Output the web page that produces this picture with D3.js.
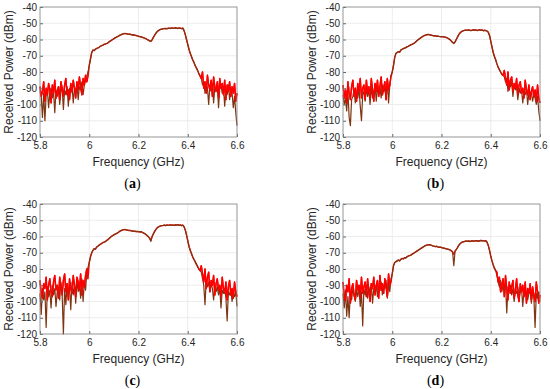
<!DOCTYPE html>
<html>
<head>
<meta charset="utf-8">
<script src="https://cdn.jsdelivr.net/npm/d3@7"></script>
<style>
  body { margin: 0; background: #fff; }
  svg { display: block; }
  .tick text { font-family: "Liberation Sans", Arial, sans-serif; font-size: 10px; fill: #262626; }
</style>
</head>
<body>
<svg id="canvas" width="550" height="389"></svg>
<script>
// sample grid, 5.8 .. 6.6 GHz in 5 MHz steps (161 points)
const freqStart = 5.8;
const freqStep = 0.005;
const xTicks = [5.8, 6, 6.2, 6.4, 6.6];
const yTicks = [-40, -50, -60, -70, -80, -90, -100, -110, -120];

// (a)
const redA = [-89,-95,-92,-86,-98,-90,-94,-87,-91,-99,-88,-93,-85,-96,-92,-89,-97,-86,-90,-95,
  -88,-84,-94,-91,-97,-87,-92,-85,-90,-96,-86,-91,-83,-89,-94,-84,-88,-82,-86,-83,
  -76,-72,-68,-66.5,-66.8,-66,-65.5,-65.2,-64.8,-64.2,-63.8,-63.5,-63,-62.8,-62.5,-62.2,-61.5,-61,-60.5,-60,
  -59.5,-59,-58.6,-58.2,-57.8,-57.3,-57,-56.7,-56.4,-56.3,-56.4,-56.6,-56.8,-56.7,-57,-57.2,-57.1,-57.4,-57.5,-57.8,
  -58,-58.2,-58.4,-58.6,-58.9,-59.2,-59.5,-60,-60.4,-60.8,-61.2,-60.2,-58.8,-57.5,-56.3,-55.3,-54.6,-54.1,-53.8,-53.6,
  -53.4,-53.3,-53.2,-53.4,-53.1,-53,-53.2,-52.9,-53.1,-53,-52.8,-53,-53.2,-52.9,-53.1,-53.3,-53,-54.5,-57,-60,
  -63,-66,-68.5,-70.5,-72.5,-74,-76,-77.5,-79,-81,-82.5,
  -84,-80,-90,-86,-93,-82,-88,-91,-85,-95,-83,-89,-92,-86,-96,-84,-90,-87,-94,-85,-97,-88,-92,-86,-95,-89,-93,-87,-98,-93];
const darkA = [-92,-95,-108,-93,-110,-94,-91,-102,-93,-90,-96,-92,-105,-91,-95,-89,-100,-92,-90,-103,
  -91,-94,-89,-101,-90,-93,-88,-99,-90,-92,-87,-97,-89,-91,-86,-94,-88,-85,-83,-80,
  -76,-72,-68,-66.5,-66.8,-66,-65.5,-65.2,-64.8,-64.2,-63.8,-63.5,-63,-62.8,-62.5,-62.2,-61.5,-61,-60.5,-60,
  -59.5,-59,-58.6,-58.2,-57.8,-57.3,-57,-56.7,-56.4,-56.3,-56.4,-56.6,-56.8,-56.7,-57,-57.2,-57.1,-57.4,-57.5,-57.8,
  -58,-58.2,-58.4,-58.6,-58.9,-59.2,-59.5,-60,-60.4,-60.8,-61.2,-60.2,-58.8,-57.5,-56.3,-55.3,-54.6,-54.1,-53.8,-53.6,
  -53.4,-53.3,-53.2,-53.4,-53.1,-53,-53.2,-52.9,-53.1,-53,-52.8,-53,-53.2,-52.9,-53.1,-53.3,-53,-54.5,-57,-60,
  -63,-66,-68.5,-70.5,-72.5,-74,-76,-77.5,-79,-81,-82.5,
  -84,-88,-86,-93,-87,-90,-100,-88,-92,-87,-99,-89,-91,-87,-102,-90,-88,-93,-89,-101,-91,-94,-88,-97,-91,-93,-102,-95,-105,-113];

// (b)
const redB = [-88,-96,-91,-99,-86,-93,-97,-89,-85,-95,-90,-98,-87,-92,-84,-96,-90,-88,-97,-85,
  -93,-89,-96,-84,-91,-98,-87,-92,-85,-95,-89,-83,-94,-90,-86,-97,-84,-91,-88,-83,
  -80,-76,-71,-68.5,-68,-67.5,-67.8,-66.5,-66,-65.6,-65.3,-65,-64.5,-64.2,-63.7,-63.3,-63,-62.6,-62.2,-61.5,
  -60.8,-60.2,-59.6,-59,-58.5,-58,-57.6,-57.3,-57.1,-56.9,-57,-57.2,-57.4,-57.6,-57.8,-57.7,-58,-57.9,-58.1,-58.2,
  -58.3,-58.2,-58.4,-58.5,-58.8,-59.2,-59.6,-60.2,-61,-61.8,-62.4,-61.5,-60,-58.5,-57,-56,-55.3,-54.8,-54.5,-54.3,
  -54.2,-54.4,-54.1,-54.3,-54.5,-54.2,-54,-54.3,-54.1,-54.5,-54.2,-54,-54.4,-54.1,-54.6,-54.3,-54.5,-54.8,-55.5,-57.5,
  -61,-64.5,-68,-70.5,-72.5,-75,-77,-78.5,-80,-81.5,-82,
  -79,-84,-88,-80,-91,-85,-83,-92,-87,-90,-84,-94,-88,-86,-93,-90,-96,-85,-91,-94,-88,-97,-92,-89,-95,-91,-98,-88,-96,-99];
const darkB = [-94,-100,-96,-104,-92,-108,-113,-97,-95,-91,-99,-93,-96,-90,-101,-110,-94,-92,-98,-90,
  -95,-91,-100,-89,-96,-92,-88,-98,-90,-94,-89,-96,-88,-92,-90,-97,-85,-99,-88,-82,
  -80,-76,-71,-68.5,-68,-67.5,-67.8,-66.5,-66,-65.6,-65.3,-65,-64.5,-64.2,-63.7,-63.3,-63,-62.6,-62.2,-61.5,
  -60.8,-60.2,-59.6,-59,-58.5,-58,-57.6,-57.3,-57.1,-56.9,-57,-57.2,-57.4,-57.6,-57.8,-57.7,-58,-57.9,-58.1,-58.2,
  -58.3,-58.2,-58.4,-58.5,-58.8,-59.2,-59.6,-60.2,-61,-61.8,-62.4,-61.5,-60,-58.5,-57,-56,-55.3,-54.8,-54.5,-54.3,
  -54.2,-54.4,-54.1,-54.3,-54.5,-54.2,-54,-54.3,-54.1,-54.5,-54.2,-54,-54.4,-54.1,-54.6,-54.3,-54.5,-54.8,-55.5,-57.5,
  -61,-64.5,-68,-70.5,-72.5,-75,-77,-78.5,-80,-81.5,-82,
  -83,-86,-84,-92,-87,-89,-86,-95,-88,-91,-89,-97,-90,-93,-91,-99,-92,-94,-90,-100,-93,-95,-92,-98,-94,-96,-100,-95,-104,-110];

// (c)
const redC = [-87,-95,-98,-89,-92,-85,-99,-90,-86,-94,-97,-88,-84,-93,-90,-98,-85,-91,-96,-87,
  -83,-94,-89,-99,-86,-92,-95,-84,-90,-97,-85,-88,-93,-83,-96,-87,-91,-84,-80,-86,
  -76,-72.5,-70,-68.5,-67.5,-67.8,-66.5,-66,-65.3,-64.8,-64.3,-63.8,-63.5,-63.2,-62.5,-62,-61.3,-60.6,-60,-59.4,
  -59,-58.6,-58.2,-57.8,-57.2,-56.7,-56.3,-56,-55.8,-55.7,-55.9,-56.1,-56.3,-56.2,-56.5,-56.6,-56.8,-56.7,-57,-56.9,
  -57,-57.2,-57,-57.4,-57.8,-58.2,-58.8,-59.4,-60.2,-61,-62.5,-60.2,-58.5,-57,-55.8,-54.8,-54.2,-53.8,-53.5,-53.3,
  -53.2,-53,-53.3,-52.9,-53.1,-53,-52.8,-53.1,-52.9,-53.2,-52.8,-53,-52.7,-53.1,-52.9,-53.3,-53,-54,-56,-59,
  -62.5,-66,-68.5,-70.5,-72.5,-74,-75.5,-77,-78.5,-80,-81,
  -78,-83,-88,-80,-92,-85,-82,-94,-87,-90,-84,-96,-89,-86,-93,-90,-97,-85,-92,-95,-88,-99,-91,-87,-96,-92,-98,-88,-94,-97];
const darkC = [-95,-108,-92,-99,-94,-116,-91,-97,-93,-104,-90,-96,-92,-103,-94,-91,-99,-88,-96,-120,
  -92,-102,-89,-95,-91,-105,-88,-96,-90,-101,-87,-94,-89,-98,-86,-100,-88,-93,-82,-79,
  -76,-72.5,-70,-68.5,-67.5,-67.8,-66.5,-66,-65.3,-64.8,-64.3,-63.8,-63.5,-63.2,-62.5,-62,-61.3,-60.6,-60,-59.4,
  -59,-58.6,-58.2,-57.8,-57.2,-56.7,-56.3,-56,-55.8,-55.7,-55.9,-56.1,-56.3,-56.2,-56.5,-56.6,-56.8,-56.7,-57,-56.9,
  -57,-57.2,-57,-57.4,-57.8,-58.2,-58.8,-59.4,-60.2,-61,-63,-60.2,-58.5,-57,-55.8,-54.8,-54.2,-53.8,-53.5,-53.3,
  -53.2,-53,-53.3,-52.9,-53.1,-53,-52.8,-53.1,-52.9,-53.2,-52.8,-53,-52.7,-53.1,-52.9,-53.3,-53,-54,-56,-59,
  -62.5,-66,-68.5,-70.5,-72.5,-74,-75.5,-77,-78.5,-80,-81,
  -82,-86,-90,-102,-87,-91,-88,-94,-89,-92,-99,-90,-94,-91,-96,-92,-104,-93,-95,-92,-98,-112,-94,-96,-93,-100,-95,-97,-94,-103];

// (d)
const redD = [-88,-97,-100,-90,-94,-86,-101,-92,-89,-96,-99,-87,-93,-90,-98,-85,-95,-91,-88,-97,
  -86,-94,-100,-89,-92,-85,-96,-90,-87,-98,-84,-93,-89,-95,-86,-91,-97,-83,-90,-88,
  -83,-78,-76,-75.5,-75,-74.5,-75,-74,-73.5,-73.8,-73,-73.2,-72.5,-72,-71.8,-71.5,-71,-70.5,-70,-69.5,
  -69,-68.5,-68,-67.5,-67,-66.5,-66,-65.6,-65.3,-65.1,-65,-65.2,-65.5,-65.8,-66,-66.2,-66,-66.4,-66.6,-66.5,
  -66.8,-67,-67.2,-67.4,-67.6,-67.8,-68,-68.3,-68.8,-69.5,-71,-69,-68,-66.8,-65.5,-64.5,-63.8,-63.4,-63.2,-63,
  -62.8,-63,-62.7,-63.1,-62.8,-62.6,-63,-62.7,-62.5,-62.9,-62.6,-62.8,-62.4,-62.7,-62.5,-62.8,-62.6,-63.5,-65.5,-68.5,
  -72,-75,-77.5,-79.5,-81,
  -82,-88,-85,-94,-90,-86,-97,-84,-92,-99,-88,-95,-91,-87,-98,-93,-86,-96,-100,-89,-94,-90,-97,-88,-101,-92,-95,-89,-99,-91,-96,-100,-88,-94,-101,-96];
const darkD = [-95,-104,-93,-109,-97,-110,-94,-99,-92,-96,-100,-93,-97,-91,-103,-94,-115,-92,-96,-90,
  -98,-91,-95,-89,-101,-92,-94,-90,-97,-91,-93,-88,-96,-90,-92,-87,-98,-89,-94,-86,
  -83,-78,-76,-75.5,-75,-74.5,-75,-74,-73.5,-73.8,-73,-73.2,-72.5,-72,-71.8,-71.5,-71,-70.5,-70,-69.5,
  -69,-68.5,-68,-67.5,-67,-66.5,-66,-65.6,-65.3,-65.1,-65,-65.2,-65.5,-65.8,-66,-66.2,-66,-66.4,-66.6,-66.5,
  -66.8,-67,-67.2,-67.4,-67.6,-67.8,-68,-68.3,-68.8,-69.5,-78,-69,-68,-66.8,-65.5,-64.5,-63.8,-63.4,-63.2,-63,
  -62.8,-63,-62.7,-63.1,-62.8,-62.6,-63,-62.7,-62.5,-62.9,-62.6,-62.8,-62.4,-62.7,-62.5,-62.8,-62.6,-63.5,-65.5,-68.5,
  -72,-75,-77.5,-79.5,-81,
  -84,-88,-91,-87,-94,-90,-92,-89,-107,-91,-94,-90,-96,-92,-100,-93,-95,-91,-98,-94,-92,-103,-93,-96,-94,-99,-95,-93,-101,-94,-97,-116,-95,-98,-94,-100];

// where the noise floor ends (left) and starts again (right), GHz
const noiseEdges = [[5.995, 6.45], [5.995, 6.445], [5.995, 6.445], [5.995, 6.42]];

const panels = [
  { label: "a", red: redA, dark: darkA, noise: noiseEdges[0], left: 40, top: 7 },
  { label: "b", red: redB, dark: darkB, noise: noiseEdges[1], left: 343, top: 7 },
  { label: "c", red: redC, dark: darkC, noise: noiseEdges[2], left: 40, top: 204 },
  { label: "d", red: redD, dark: darkD, noise: noiseEdges[3], left: 343, top: 204 }
];

const plotW = 197;
const plotH = 130;

const canvas = d3.select("#canvas");
canvas.append("rect").attr("width", 550).attr("height", 389).attr("fill", "#fff");
const defs = canvas.append("defs");

const drawPanel = (p, k) => {
  const x = d3.scaleLinear().domain([5.8, 6.6]).range([0, plotW]);
  const y = d3.scaleLinear().domain([-120, -40]).range([plotH, 0]);

  const g = canvas.append("g").attr("transform", `translate(${p.left}, ${p.top})`);

  // grid
  g.append("g")
    .selectAll("line")
    .data(xTicks)
    .enter()
    .append("line")
    .attr("x1", (d) => x(d))
    .attr("x2", (d) => x(d))
    .attr("y1", 0)
    .attr("y2", plotH)
    .attr("stroke", "#e8e8e8")
    .attr("stroke-width", 0.8);
  g.append("g")
    .selectAll("line")
    .data(yTicks)
    .enter()
    .append("line")
    .attr("x1", 0)
    .attr("x2", plotW)
    .attr("y1", (d) => y(d))
    .attr("y2", (d) => y(d))
    .attr("stroke", "#e8e8e8")
    .attr("stroke-width", 0.8);

  const line = d3
    .line()
    .x((d, i) => x(freqStart + i * freqStep))
    .y((d) => y(d));

  // red trace on top only in the noise floor regions
  const clipId = "noise" + k;
  const clip = defs.append("clipPath").attr("id", clipId);
  clip.append("rect").attr("x", -2).attr("y", -5)
    .attr("width", x(p.noise[0]) + 2).attr("height", plotH + 10);
  clip.append("rect").attr("x", x(p.noise[1])).attr("y", -5)
    .attr("width", plotW - x(p.noise[1]) + 2).attr("height", plotH + 10);

  g.append("path")
    .datum(p.red)
    .attr("d", line)
    .attr("fill", "none")
    .attr("stroke", "#ff0000")
    .attr("stroke-width", 1.4)
    .attr("stroke-linejoin", "round");

  g.append("path")
    .datum(p.dark)
    .attr("d", line)
    .attr("fill", "none")
    .attr("stroke", "#7d3512")
    .attr("stroke-width", 1.2)
    .attr("stroke-linejoin", "round");

  g.append("path")
    .datum(p.red)
    .attr("d", line)
    .attr("clip-path", `url(#${clipId})`)
    .attr("fill", "none")
    .attr("stroke", "#ff0000")
    .attr("stroke-width", 1.4)
    .attr("stroke-linejoin", "round");

  // axes
  const xAxis = d3.axisBottom(x).tickValues(xTicks).tickSize(-3).tickPadding(5)
    .tickFormat((d) => String(+d.toFixed(1)));
  const yAxis = d3.axisLeft(y).tickValues(yTicks).tickSize(-3).tickPadding(3)
    .tickFormat((d) => String(d));

  g.append("g").attr("transform", `translate(0, ${plotH})`).call(xAxis)
    .call((s) => s.select(".domain").remove())
    .call((s) => s.selectAll(".tick line").attr("stroke", "#666"));
  g.append("g").call(yAxis)
    .call((s) => s.select(".domain").remove())
    .call((s) => s.selectAll(".tick line").attr("stroke", "#666"));

  g.append("rect")
    .attr("width", plotW)
    .attr("height", plotH)
    .attr("fill", "none")
    .attr("stroke", "#8a8a8a")
    .attr("stroke-width", 0.8);

  g.append("text")
    .text("Frequency (GHz)")
    .attr("x", plotW / 2)
    .attr("y", plotH + 29)
    .attr("text-anchor", "middle")
    .attr("font-family", "Liberation Sans, Arial, sans-serif")
    .attr("font-size", 12)
    .attr("fill", "#262626");

  g.append("text")
    .text("Received Power (dBm)")
    .attr("transform", `translate(-27, ${plotH / 2}) rotate(-90)`)
    .attr("text-anchor", "middle")
    .attr("font-family", "Liberation Sans, Arial, sans-serif")
    .attr("font-size", 12)
    .attr("fill", "#262626");

  const lab = g.append("text")
    .attr("x", plotW / 2 - 6)
    .attr("y", plotH + 51)
    .attr("text-anchor", "middle")
    .attr("font-family", "Liberation Serif, Times New Roman, serif")
    .attr("font-size", 14)
    .attr("fill", "#000");
  lab.append("tspan").text("(");
  lab.append("tspan").attr("font-weight", "bold").text(p.label);
  lab.append("tspan").text(")");
};

panels.forEach(drawPanel);
</script>
</body>
</html>
